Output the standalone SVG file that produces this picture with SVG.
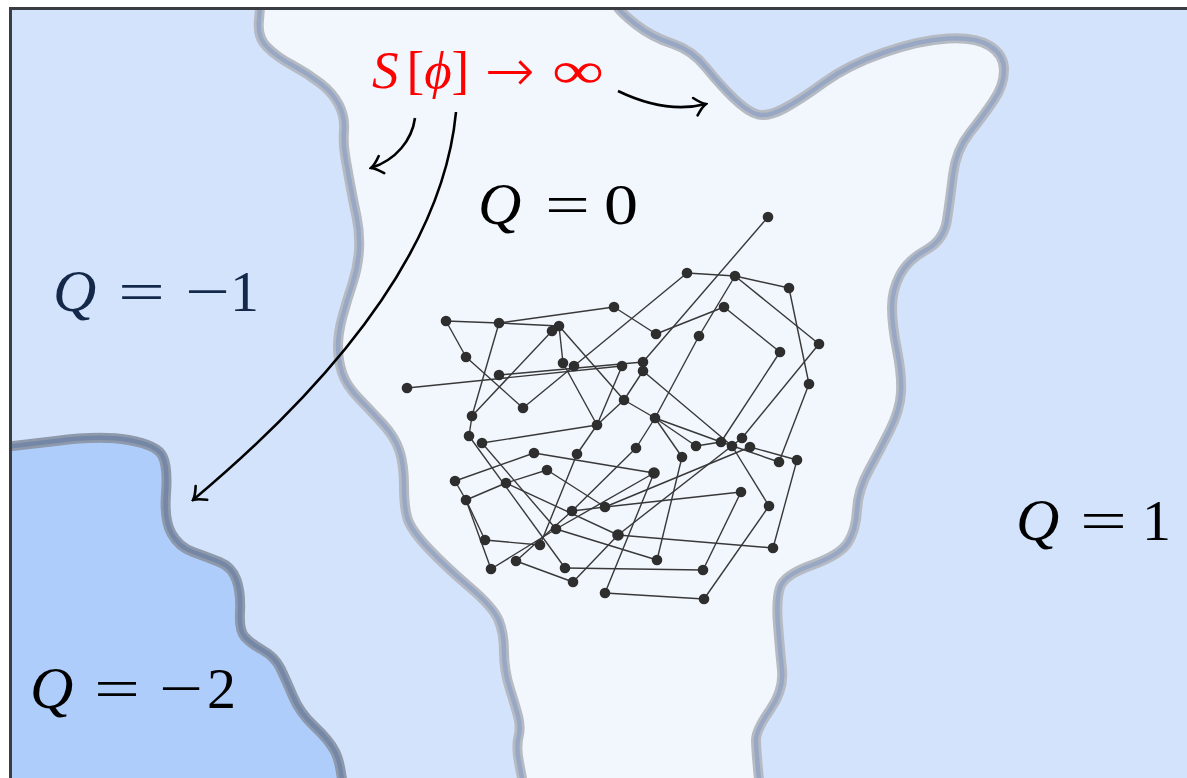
<svg xmlns="http://www.w3.org/2000/svg" width="1187" height="778" viewBox="0 0 1187 778">
<style>
.e{stroke:#383838;stroke-width:1.4;fill:none}
.n{fill:#2e2e2e}
.bo{fill:none;stroke:#b6bac2;stroke-width:10;stroke-linejoin:round;stroke-linecap:round}
.bi{fill:none;stroke:#98a8c4;stroke-width:4.5;stroke-linejoin:round;stroke-linecap:round}
.bo2{fill:none;stroke:#8e99ab;stroke-width:10;stroke-linejoin:round}
.bi2{fill:none;stroke:#7587a6;stroke-width:4.5;stroke-linejoin:round}
.arr{fill:none;stroke:#000;stroke-width:2.6;marker-end:url(#ah)}
</style>
<defs>
<marker id="ah" viewBox="-13 -11 15 22" markerWidth="15" markerHeight="22" refX="0" refY="0" orient="auto" markerUnits="userSpaceOnUse">
<path d="M-11,-9 Q-4.5,-1.8 0,0 Q-4.5,1.8 -11,9" fill="none" stroke="#000" stroke-width="2.6" stroke-linecap="round"/>
</marker>
</defs>
<g id="regions">
<rect x="0" y="0" width="1187" height="778" fill="#d3e3fc"/>
<path id="q0" fill="#f2f7fe" d="M261,-5 L259,20 Q257,37 267,47 Q277,57 292,65 Q307,73 320,83 Q333,93 339,105 Q345,117 344,130 Q343,143 345,155 Q347,167 350,183.5 Q353,200 356.5,216.5 Q360,233 359,250 Q358,267 352.5,283.5 Q347,300 342.5,316.5 Q338,333 338,346.5 Q338,360 342,372.5 Q346,385 358,397.5 Q370,410 382.5,423.5 Q395,437 399.5,451 Q404,465 404,486 Q404,507 407.5,518.5 Q411,530 428.5,548.5 Q446,567 469.5,587 Q493,607 498.5,620 Q504,633 504,651.5 Q504,670 509.5,687.5 Q515,705 518,716 Q521,727 518.5,737 Q516,747 519,762.5 Q522,778 524,790 L760,790 Q756,750 756,740 Q756,730 770,710 Q784,690 782,670 Q780,650 778,625 Q776,600 780,587.5 Q784,575 812,565 Q840,555 848,542.5 Q856,530 857,510 Q858,490 869,470 Q880,450 890,430 Q900,410 901,392.5 Q902,375 897,350 Q892,325 892,307.5 Q892,290 900,275 Q908,260 926,250 Q944,240 947,220 Q950,200 953,175 Q956,150 970,132.5 Q984,115 994,100 Q1004,85 1004,70 Q1004,55 990,46 Q976,37 948,38.5 Q920,40 884,52.5 Q848,65 824,82.5 Q800,100 784,108.5 Q768,117 758,114.5 Q748,112 734,98.5 Q720,85 706,67.5 Q692,50 672,43.5 Q652,37 636,24.5 Q620,12 616,5 L612,-5 Z"/>
<path id="qm2" fill="#afcdfb" d="M-5,448 L56,441 Q100,435 128.5,440 Q157,445 162.5,456 Q168,467 166,493.5 Q164,520 171.5,533.5 Q179,547 193,552 Q207,557 219.5,562 Q232,567 236.5,580 Q241,593 240,611.5 Q239,630 244.5,636.5 Q250,643 262.5,650 Q275,657 280.5,668.5 Q286,680 293,696.5 Q300,713 314.5,726.5 Q329,740 335,751.5 Q341,763 343,790 L-5,790 Z"/>
</g>
<g id="boundaries">
<path class="bo" d="M261,-5 L259,20 Q257,37 267,47 Q277,57 292,65 Q307,73 320,83 Q333,93 339,105 Q345,117 344,130 Q343,143 345,155 Q347,167 350,183.5 Q353,200 356.5,216.5 Q360,233 359,250 Q358,267 352.5,283.5 Q347,300 342.5,316.5 Q338,333 338,346.5 Q338,360 342,372.5 Q346,385 358,397.5 Q370,410 382.5,423.5 Q395,437 399.5,451 Q404,465 404,486 Q404,507 407.5,518.5 Q411,530 428.5,548.5 Q446,567 469.5,587 Q493,607 498.5,620 Q504,633 504,651.5 Q504,670 509.5,687.5 Q515,705 518,716 Q521,727 518.5,737 Q516,747 519,762.5 Q522,778 524,790"/>
<path class="bi" d="M261,-5 L259,20 Q257,37 267,47 Q277,57 292,65 Q307,73 320,83 Q333,93 339,105 Q345,117 344,130 Q343,143 345,155 Q347,167 350,183.5 Q353,200 356.5,216.5 Q360,233 359,250 Q358,267 352.5,283.5 Q347,300 342.5,316.5 Q338,333 338,346.5 Q338,360 342,372.5 Q346,385 358,397.5 Q370,410 382.5,423.5 Q395,437 399.5,451 Q404,465 404,486 Q404,507 407.5,518.5 Q411,530 428.5,548.5 Q446,567 469.5,587 Q493,607 498.5,620 Q504,633 504,651.5 Q504,670 509.5,687.5 Q515,705 518,716 Q521,727 518.5,737 Q516,747 519,762.5 Q522,778 524,790"/>
<path class="bo" d="M612,-5 L616,5 Q620,12 636,24.5 Q652,37 672,43.5 Q692,50 706,67.5 Q720,85 734,98.5 Q748,112 758,114.5 Q768,117 784,108.5 Q800,100 824,82.5 Q848,65 884,52.5 Q920,40 948,38.5 Q976,37 990,46 Q1004,55 1004,70 Q1004,85 994,100 Q984,115 970,132.5 Q956,150 953,175 Q950,200 947,220 Q944,240 926,250 Q908,260 900,275 Q892,290 892,307.5 Q892,325 897,350 Q902,375 901,392.5 Q900,410 890,430 Q880,450 869,470 Q858,490 857,510 Q856,530 848,542.5 Q840,555 812,565 Q784,575 780,587.5 Q776,600 778,625 Q780,650 782,670 Q784,690 770,710 Q756,730 756,740 Q756,750 760,790"/>
<path class="bi" d="M612,-5 L616,5 Q620,12 636,24.5 Q652,37 672,43.5 Q692,50 706,67.5 Q720,85 734,98.5 Q748,112 758,114.5 Q768,117 784,108.5 Q800,100 824,82.5 Q848,65 884,52.5 Q920,40 948,38.5 Q976,37 990,46 Q1004,55 1004,70 Q1004,85 994,100 Q984,115 970,132.5 Q956,150 953,175 Q950,200 947,220 Q944,240 926,250 Q908,260 900,275 Q892,290 892,307.5 Q892,325 897,350 Q902,375 901,392.5 Q900,410 890,430 Q880,450 869,470 Q858,490 857,510 Q856,530 848,542.5 Q840,555 812,565 Q784,575 780,587.5 Q776,600 778,625 Q780,650 782,670 Q784,690 770,710 Q756,730 756,740 Q756,750 760,790"/>
<path class="bo2" d="M-5,448 L56,441 Q100,435 128.5,440 Q157,445 162.5,456 Q168,467 166,493.5 Q164,520 171.5,533.5 Q179,547 193,552 Q207,557 219.5,562 Q232,567 236.5,580 Q241,593 240,611.5 Q239,630 244.5,636.5 Q250,643 262.5,650 Q275,657 280.5,668.5 Q286,680 293,696.5 Q300,713 314.5,726.5 Q329,740 335,751.5 Q341,763 343,790"/>
<path class="bi2" d="M-5,448 L56,441 Q100,435 128.5,440 Q157,445 162.5,456 Q168,467 166,493.5 Q164,520 171.5,533.5 Q179,547 193,552 Q207,557 219.5,562 Q232,567 236.5,580 Q241,593 240,611.5 Q239,630 244.5,636.5 Q250,643 262.5,650 Q275,657 280.5,668.5 Q286,680 293,696.5 Q300,713 314.5,726.5 Q329,740 335,751.5 Q341,763 343,790"/>
</g>
<g id="frame">
<rect x="0" y="0" width="1187" height="7" fill="#ffffff"/>
<rect x="0" y="0" width="9" height="778" fill="#ffffff"/>
<path d="M10.5,790 L10.5,8.5 L1200,8.5" fill="none" stroke="#3a3d42" stroke-width="3"/>
</g>
<g id="connectors">
<line class="e" x1="768" y1="217" x2="643" y2="362"/>
<line class="e" x1="687" y1="273" x2="735" y2="276"/>
<line class="e" x1="735" y1="276" x2="789" y2="288"/>
<line class="e" x1="687" y1="273" x2="574" y2="366"/>
<line class="e" x1="735" y1="276" x2="699" y2="336"/>
<line class="e" x1="735" y1="276" x2="819" y2="344"/>
<line class="e" x1="789" y1="288" x2="809" y2="384"/>
<line class="e" x1="614" y1="307" x2="656" y2="334"/>
<line class="e" x1="656" y1="334" x2="724" y2="307"/>
<line class="e" x1="724" y1="307" x2="780" y2="352"/>
<line class="e" x1="780" y1="352" x2="721" y2="442"/>
<line class="e" x1="819" y1="344" x2="742" y2="438"/>
<line class="e" x1="809" y1="384" x2="779" y2="462"/>
<line class="e" x1="614" y1="307" x2="499" y2="323"/>
<line class="e" x1="446" y1="321" x2="499" y2="323"/>
<line class="e" x1="499" y1="323" x2="559" y2="326"/>
<line class="e" x1="446" y1="321" x2="466" y2="357"/>
<line class="e" x1="466" y1="357" x2="523" y2="408"/>
<line class="e" x1="523" y1="408" x2="574" y2="366"/>
<line class="e" x1="499" y1="323" x2="472" y2="416"/>
<line class="e" x1="552" y1="331" x2="472" y2="416"/>
<line class="e" x1="559" y1="326" x2="563" y2="363"/>
<line class="e" x1="559" y1="326" x2="624" y2="400"/>
<line class="e" x1="563" y1="363" x2="597" y2="425"/>
<line class="e" x1="482" y1="443" x2="597" y2="425"/>
<line class="e" x1="597" y1="425" x2="624" y2="400"/>
<line class="e" x1="597" y1="425" x2="622" y2="366"/>
<line class="e" x1="624" y1="400" x2="655" y2="418"/>
<line class="e" x1="624" y1="400" x2="643" y2="371"/>
<line class="e" x1="407" y1="388" x2="622" y2="366"/>
<line class="e" x1="499" y1="375" x2="643" y2="362"/>
<line class="e" x1="643" y1="371" x2="732" y2="446"/>
<line class="e" x1="699" y1="336" x2="655" y2="418"/>
<line class="e" x1="655" y1="418" x2="636" y2="448"/>
<line class="e" x1="655" y1="418" x2="696" y2="446"/>
<line class="e" x1="655" y1="418" x2="682" y2="457"/>
<line class="e" x1="655" y1="418" x2="721" y2="442"/>
<line class="e" x1="721" y1="442" x2="779" y2="462"/>
<line class="e" x1="696" y1="446" x2="721" y2="442"/>
<line class="e" x1="742" y1="438" x2="618" y2="535"/>
<line class="e" x1="732" y1="446" x2="769" y2="506"/>
<line class="e" x1="750" y1="447" x2="797" y2="460"/>
<line class="e" x1="797" y1="460" x2="773" y2="548"/>
<line class="e" x1="534" y1="453" x2="654" y2="473"/>
<line class="e" x1="654" y1="473" x2="556" y2="529"/>
<line class="e" x1="654" y1="473" x2="605" y2="593"/>
<line class="e" x1="605" y1="507" x2="741" y2="492"/>
<line class="e" x1="605" y1="507" x2="750" y2="447"/>
<line class="e" x1="741" y1="492" x2="703" y2="570"/>
<line class="e" x1="769" y1="506" x2="704" y2="599"/>
<line class="e" x1="605" y1="593" x2="704" y2="599"/>
<line class="e" x1="618" y1="535" x2="773" y2="548"/>
<line class="e" x1="618" y1="535" x2="573" y2="582"/>
<line class="e" x1="682" y1="457" x2="657" y2="560"/>
<line class="e" x1="556" y1="529" x2="657" y2="560"/>
<line class="e" x1="565" y1="568" x2="703" y2="570"/>
<line class="e" x1="547" y1="470" x2="605" y2="507"/>
<line class="e" x1="572" y1="511" x2="605" y2="507"/>
<line class="e" x1="506" y1="483" x2="547" y2="470"/>
<line class="e" x1="466" y1="500" x2="506" y2="483"/>
<line class="e" x1="455" y1="481" x2="534" y2="453"/>
<line class="e" x1="455" y1="481" x2="466" y2="500"/>
<line class="e" x1="466" y1="500" x2="485" y2="540"/>
<line class="e" x1="466" y1="500" x2="491" y2="569"/>
<line class="e" x1="485" y1="540" x2="540" y2="545"/>
<line class="e" x1="491" y1="569" x2="556" y2="529"/>
<line class="e" x1="469" y1="436" x2="565" y2="568"/>
<line class="e" x1="482" y1="443" x2="556" y2="529"/>
<line class="e" x1="472" y1="416" x2="469" y2="436"/>
<line class="e" x1="597" y1="425" x2="577" y2="454"/>
<line class="e" x1="577" y1="454" x2="540" y2="545"/>
<line class="e" x1="636" y1="448" x2="572" y2="511"/>
<line class="e" x1="572" y1="511" x2="516" y2="561"/>
<line class="e" x1="516" y1="561" x2="573" y2="582"/>
<line class="e" x1="506" y1="483" x2="618" y2="535"/>
</g>
<g id="nodes">
<g id="n1"><circle class="n" cx="768" cy="217" r="5.3"/></g>
<g id="n2"><circle class="n" cx="687" cy="273" r="5.3"/></g>
<g id="n3"><circle class="n" cx="735" cy="276" r="5.3"/></g>
<g id="n4"><circle class="n" cx="789" cy="288" r="5.3"/></g>
<g id="n5"><circle class="n" cx="614" cy="307" r="5.3"/></g>
<g id="n6"><circle class="n" cx="724" cy="307" r="5.3"/></g>
<g id="n7"><circle class="n" cx="656" cy="334" r="5.3"/></g>
<g id="n8"><circle class="n" cx="699" cy="336" r="5.3"/></g>
<g id="n9"><circle class="n" cx="819" cy="344" r="5.3"/></g>
<g id="n10"><circle class="n" cx="780" cy="352" r="5.3"/></g>
<g id="n11"><circle class="n" cx="809" cy="384" r="5.3"/></g>
<g id="n12"><circle class="n" cx="643" cy="362" r="5.3"/></g>
<g id="n13"><circle class="n" cx="643" cy="371" r="5.3"/></g>
<g id="n14"><circle class="n" cx="622" cy="366" r="5.3"/></g>
<g id="n15"><circle class="n" cx="624" cy="400" r="5.3"/></g>
<g id="n16"><circle class="n" cx="655" cy="418" r="5.3"/></g>
<g id="n17"><circle class="n" cx="636" cy="448" r="5.3"/></g>
<g id="n18"><circle class="n" cx="682" cy="457" r="5.3"/></g>
<g id="n19"><circle class="n" cx="696" cy="446" r="5.3"/></g>
<g id="n20"><circle class="n" cx="721" cy="442" r="5.3"/></g>
<g id="n21"><circle class="n" cx="742" cy="438" r="5.3"/></g>
<g id="n22"><circle class="n" cx="732" cy="446" r="5.3"/></g>
<g id="n23"><circle class="n" cx="750" cy="447" r="5.3"/></g>
<g id="n24"><circle class="n" cx="779" cy="462" r="5.3"/></g>
<g id="n25"><circle class="n" cx="797" cy="460" r="5.3"/></g>
<g id="n26"><circle class="n" cx="654" cy="473" r="5.8"/></g>
<g id="n27"><circle class="n" cx="741" cy="492" r="5.3"/></g>
<g id="n28"><circle class="n" cx="769" cy="506" r="5.3"/></g>
<g id="n29"><circle class="n" cx="605" cy="507" r="5.3"/></g>
<g id="n30"><circle class="n" cx="618" cy="535" r="5.8"/></g>
<g id="n31"><circle class="n" cx="773" cy="548" r="5.3"/></g>
<g id="n32"><circle class="n" cx="657" cy="560" r="5.3"/></g>
<g id="n33"><circle class="n" cx="703" cy="570" r="5.3"/></g>
<g id="n34"><circle class="n" cx="605" cy="593" r="5.3"/></g>
<g id="n35"><circle class="n" cx="704" cy="599" r="5.3"/></g>
<g id="n36"><circle class="n" cx="446" cy="321" r="5.3"/></g>
<g id="n37"><circle class="n" cx="499" cy="323" r="5.3"/></g>
<g id="n38"><circle class="n" cx="552" cy="331" r="5.3"/></g>
<g id="n39"><circle class="n" cx="559" cy="326" r="5.3"/></g>
<g id="n40"><circle class="n" cx="466" cy="357" r="5.3"/></g>
<g id="n41"><circle class="n" cx="499" cy="375" r="5.3"/></g>
<g id="n42"><circle class="n" cx="563" cy="363" r="5.3"/></g>
<g id="n43"><circle class="n" cx="574" cy="366" r="5.3"/></g>
<g id="n44"><circle class="n" cx="407" cy="388" r="5.3"/></g>
<g id="n45"><circle class="n" cx="523" cy="408" r="5.3"/></g>
<g id="n46"><circle class="n" cx="472" cy="416" r="5.3"/></g>
<g id="n47"><circle class="n" cx="469" cy="436" r="5.3"/></g>
<g id="n48"><circle class="n" cx="482" cy="443" r="5.3"/></g>
<g id="n49"><circle class="n" cx="597" cy="425" r="5.3"/></g>
<g id="n50"><circle class="n" cx="534" cy="453" r="5.3"/></g>
<g id="n51"><circle class="n" cx="577" cy="454" r="5.3"/></g>
<g id="n52"><circle class="n" cx="455" cy="481" r="5.3"/></g>
<g id="n53"><circle class="n" cx="506" cy="483" r="5.3"/></g>
<g id="n54"><circle class="n" cx="547" cy="470" r="5.3"/></g>
<g id="n55"><circle class="n" cx="466" cy="500" r="5.3"/></g>
<g id="n56"><circle class="n" cx="572" cy="511" r="5.3"/></g>
<g id="n57"><circle class="n" cx="556" cy="529" r="5.3"/></g>
<g id="n58"><circle class="n" cx="485" cy="540" r="5.3"/></g>
<g id="n59"><circle class="n" cx="540" cy="545" r="5.3"/></g>
<g id="n60"><circle class="n" cx="491" cy="569" r="5.3"/></g>
<g id="n61"><circle class="n" cx="516" cy="561" r="5.3"/></g>
<g id="n62"><circle class="n" cx="565" cy="568" r="5.3"/></g>
<g id="n63"><circle class="n" cx="573" cy="582" r="5.3"/></g>
</g>
<g id="arrows">
<path class="arr" d="M415,118 C412,140 396,160 371,168"/>
<path class="arr" d="M456,112 C445,230 360,360 193,500"/>
<path class="arr" d="M618,91 C645,104 675,112 706,104"/>
</g>
<g id="labels" font-family="'Liberation Serif', 'Times New Roman', serif" font-size="58">
<g id="action" fill="#ff0000">
<text x="372" y="88" font-size="53"><tspan font-style="italic">S</tspan><tspan dx="8">[</tspan><tspan font-style="italic">ϕ</tspan><tspan>]</tspan></text>
<text x="485" y="91" font-family="'DejaVu Sans', sans-serif" font-weight="200" font-size="60" textLength="50" lengthAdjust="spacingAndGlyphs">→</text>
<text x="552" y="88" font-size="52" textLength="52" lengthAdjust="spacingAndGlyphs">∞</text>
</g>
<g id="q0label" fill="#000">
<text x="478" y="224" font-style="italic" font-size="60">Q</text>
<text x="545" y="224" textLength="45" lengthAdjust="spacingAndGlyphs">=</text>
<text x="604" y="224" textLength="34" lengthAdjust="spacingAndGlyphs">0</text>
</g>
<g id="qm1label" fill="#14284a">
<text x="53" y="311" font-style="italic" font-size="60">Q</text>
<text x="118" y="311" textLength="47" lengthAdjust="spacingAndGlyphs">=</text>
<text x="185" y="311" textLength="45" lengthAdjust="spacingAndGlyphs">−</text>
<text x="230" y="311">1</text>
</g>
<g id="qm2label" fill="#000">
<text x="30" y="708" font-style="italic" font-size="60">Q</text>
<text x="94" y="708" textLength="46" lengthAdjust="spacingAndGlyphs">=</text>
<text x="159" y="708" textLength="44" lengthAdjust="spacingAndGlyphs">−</text>
<text x="207" y="708">2</text>
</g>
<g id="q1label" fill="#000">
<text x="1016" y="540" font-style="italic" font-size="60">Q</text>
<text x="1080" y="540" textLength="47" lengthAdjust="spacingAndGlyphs">=</text>
<text x="1142" y="540">1</text>
</g>
</g>
</svg>
